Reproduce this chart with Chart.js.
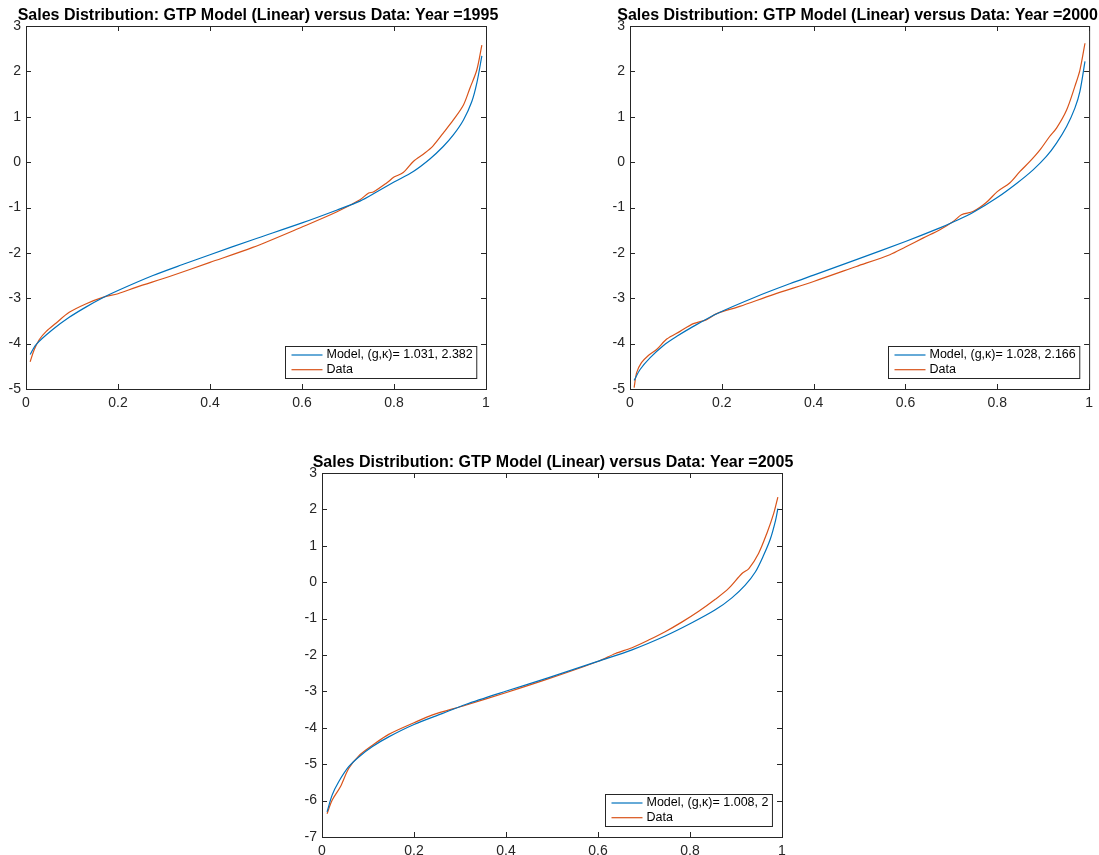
<!DOCTYPE html>
<html>
<head>
<meta charset="utf-8">
<title>Sales Distribution: GTP Model (Linear) versus Data</title>
<script src="https://cdn.jsdelivr.net/npm/chart.js@4"></script>
<style>
  body { margin: 0; background: #fff; overflow: hidden; }
  canvas { position: absolute; }
</style>
</head>
<body>
<canvas id="c1995" width="500" height="420" style="left:0px;top:0px"></canvas>
<canvas id="c2000" width="495" height="420" style="left:604px;top:0px"></canvas>
<canvas id="c2005" width="500" height="408" style="left:296px;top:447px"></canvas>
<script>
// values (quantile on x, log sales on y)
const xTicks = [0, 0.2, 0.4, 0.6, 0.8, 1];

const model1995X = [0.009, 0.022, 0.058, 0.094, 0.131, 0.167, 0.2, 0.276, 0.348, 0.4, 0.493, 0.6, 0.675, 0.726, 0.762, 0.8, 0.842, 0.878, 0.907, 0.929, 0.951, 0.969, 0.98, 0.991];
const model1995Y = [-4.24, -4.02, -3.69, -3.42, -3.19, -2.99, -2.83, -2.50, -2.23, -2.04, -1.71, -1.34, -1.06, -0.86, -0.66, -0.44, -0.205, 0.07, 0.345, 0.6, 0.93, 1.33, 1.74, 2.34];
const data1995X = [0.009, 0.018, 0.029, 0.044, 0.065, 0.094, 0.131, 0.167, 0.2, 0.239, 0.312, 0.4, 0.493, 0.6, 0.675, 0.726, 0.745, 0.755, 0.784, 0.8, 0.82, 0.842, 0.867, 0.885, 0.907, 0.929, 0.951, 0.965, 0.98, 0.991];
const data1995Y = [-4.40, -4.13, -3.91, -3.73, -3.55, -3.31, -3.12, -2.98, -2.90, -2.76, -2.52, -2.21, -1.88, -1.43, -1.10, -0.83, -0.68, -0.66, -0.46, -0.33, -0.23, 0.015, 0.2, 0.36, 0.64, 0.93, 1.26, 1.63, 2.03, 2.58];

const model2000X = [0.009, 0.022, 0.044, 0.073, 0.102, 0.138, 0.189, 0.276, 0.348, 0.4, 0.493, 0.6, 0.675, 0.704, 0.747, 0.8, 0.842, 0.878, 0.907, 0.929, 0.951, 0.969, 0.98, 0.991];
const model2000Y = [-4.81, -4.57, -4.31, -4.04, -3.84, -3.62, -3.34, -2.96, -2.68, -2.49, -2.15, -1.75, -1.45, -1.32, -1.11, -0.78, -0.47, -0.17, 0.125, 0.42, 0.785, 1.19, 1.56, 2.22];
const data2000X = [0.009, 0.0145, 0.025, 0.04, 0.058, 0.08, 0.109, 0.138, 0.167, 0.189, 0.239, 0.312, 0.4, 0.493, 0.566, 0.6, 0.639, 0.675, 0.704, 0.722, 0.747, 0.776, 0.8, 0.827, 0.849, 0.871, 0.893, 0.914, 0.929, 0.951, 0.969, 0.98, 0.991];
const data2000Y = [-4.97, -4.64, -4.42, -4.26, -4.13, -3.90, -3.73, -3.56, -3.47, -3.34, -3.18, -2.92, -2.63, -2.30, -2.04, -1.87, -1.67, -1.49, -1.31, -1.16, -1.09, -0.89, -0.65, -0.46, -0.21, 0.015, 0.27, 0.565, 0.75, 1.15, 1.67, 2.03, 2.62];

const model2005X = [0.011, 0.022, 0.036, 0.058, 0.08, 0.109, 0.145, 0.2, 0.261, 0.312, 0.401, 0.493, 0.601, 0.674, 0.746, 0.802, 0.855, 0.891, 0.92, 0.942, 0.96, 0.975, 0.986, 0.991];
const model2005Y = [-6.31, -5.85, -5.49, -5.07, -4.80, -4.52, -4.25, -3.91, -3.61, -3.36, -2.99, -2.62, -2.17, -1.86, -1.48, -1.13, -0.76, -0.43, -0.08, 0.28, 0.74, 1.2, 1.70, 2.02];
const data2005X = [0.011, 0.022, 0.04, 0.058, 0.08, 0.112, 0.145, 0.2, 0.239, 0.312, 0.401, 0.493, 0.601, 0.638, 0.674, 0.71, 0.746, 0.783, 0.819, 0.855, 0.884, 0.913, 0.928, 0.949, 0.967, 0.982, 0.991];
const data2005Y = [-6.36, -5.99, -5.62, -5.12, -4.77, -4.46, -4.18, -3.86, -3.65, -3.38, -3.03, -2.65, -2.17, -1.96, -1.80, -1.59, -1.36, -1.09, -0.80, -0.47, -0.17, 0.24, 0.375, 0.79, 1.34, 1.89, 2.34];

Chart.defaults.font.family = "'Liberation Sans', Arial, Helvetica, sans-serif";
Chart.defaults.color = '#262626';

function zip(xs, ys) {
  return xs.map((x, i) => ({ x: x, y: ys[i] }));
}

// matlab style box, inward ticks, title and legend
const matlabDeco = {
  id: 'matlabDeco',
  beforeDatasetsDraw(chart) {
    const { ctx, chartArea: a, scales } = chart;
    ctx.save();
    ctx.strokeStyle = '#262626';
    ctx.lineWidth = 1;
    ctx.strokeRect(a.left + 0.5, a.top + 0.5, a.right - a.left, a.bottom - a.top);
    ctx.beginPath();
    scales.x.ticks.forEach(t => {
      const px = Math.round(scales.x.getPixelForValue(t.value)) + 0.5;
      ctx.moveTo(px, a.bottom); ctx.lineTo(px, a.bottom - 5);
      ctx.moveTo(px, a.top); ctx.lineTo(px, a.top + 5);
    });
    scales.y.ticks.forEach(t => {
      const py = Math.round(scales.y.getPixelForValue(t.value)) + 0.5;
      ctx.moveTo(a.left, py); ctx.lineTo(a.left + 5, py);
      ctx.moveTo(a.right, py); ctx.lineTo(a.right - 5, py);
    });
    ctx.stroke();
    ctx.restore();
  },
  afterDraw(chart, args, opts) {
    const { ctx, chartArea: a } = chart;
    ctx.save();
    // title
    ctx.fillStyle = '#000';
    ctx.font = "bold 16px 'Liberation Sans', Arial, sans-serif";
    ctx.textAlign = 'center';
    ctx.textBaseline = 'alphabetic';
    ctx.fillText(opts.title, (a.left + a.right) / 2 + opts.shift, a.top - 6);

    // legend box in the lower right
    ctx.font = "12.5px 'Liberation Sans', Arial, sans-serif";
    const sets = chart.data.datasets;
    const textW = Math.max(...sets.map(d => ctx.measureText(d.label).width));
    const w = 6 + 31 + 4 + textW + 4;
    const h = 32;
    const x0 = Math.round(a.right - 10 - w) + 0.5;
    const y0 = Math.round(a.bottom - 11 - h) + 0.5;
    ctx.fillStyle = '#fff';
    ctx.fillRect(x0, y0, w, h);
    ctx.strokeStyle = '#262626';
    ctx.lineWidth = 1;
    ctx.strokeRect(x0, y0, w, h);
    ctx.textAlign = 'left';
    ctx.textBaseline = 'middle';
    sets.forEach((d, i) => {
      const yy = y0 + 8.5 + i * 14.7;
      ctx.strokeStyle = d.borderColor;
      ctx.lineWidth = 1.2;
      ctx.beginPath();
      ctx.moveTo(x0 + 6, yy); ctx.lineTo(x0 + 37, yy);
      ctx.stroke();
      ctx.fillStyle = '#000';
      ctx.fillText(d.label, x0 + 41, yy);
    });
    ctx.restore();
  }
};

function makePanel(id, p) {
  const canvas = document.getElementById(id);
  return new Chart(canvas.getContext('2d'), {
    type: 'scatter',
    data: {
      datasets: [{
        label: 'Model, (g,κ)= ' + p.params,
        data: zip(p.modelX, p.modelY),
        borderColor: '#0072BD',
      }, {
        label: 'Data',
        data: zip(p.dataX, p.dataY),
        borderColor: '#D95319',
      }]
    },
    plugins: [matlabDeco],
    options: {
      responsive: false,
      animation: false,
      showLine: true,
      elements: {
        point: { radius: 0, hoverRadius: 0 },
        line: { borderWidth: 1.2, tension: 0.3, fill: false }
      },
      layout: { padding: { top: 26, right: p.padRight, left: 0, bottom: 0 } },
      plugins: {
        legend: { display: false },
        title: { display: false },
        tooltip: { enabled: false },
        matlabDeco: { title: 'Sales Distribution: GTP Model (Linear) versus Data: Year =' + p.year, shift: p.titleShift }
      },
      scales: {
        x: {
          type: 'linear',
          min: 0, max: 1,
          afterBuildTicks: s => { s.ticks = xTicks.map(v => ({ value: v })); },
          afterFit: s => { s.height = p.xHeight; },
          grid: { display: false, drawTicks: false },
          border: { display: false },
          ticks: { padding: 6, font: { size: 14 }, maxRotation: 0, callback: v => String(+v.toFixed(1)) }
        },
        y: {
          min: p.yMin, max: 3,
          afterFit: s => { s.width = 26; },
          grid: { display: false, drawTicks: false },
          border: { display: false },
          ticks: { stepSize: 1, padding: 5, font: { size: 14 }, callback: v => String(v) }
        }
      }
    }
  });
}

makePanel('c1995', { year: 1995, params: '1.031, 2.382', modelX: model1995X, modelY: model1995Y, dataX: data1995X, dataY: data1995Y, yMin: -5, padRight: 14, xHeight: 31, titleShift: 2 });
makePanel('c2000', { year: 2000, params: '1.028, 2.166', modelX: model2000X, modelY: model2000Y, dataX: data2000X, dataY: data2000Y, yMin: -5, padRight: 9, xHeight: 31, titleShift: -2 });
makePanel('c2005', { year: 2005, params: '1.008, 2', modelX: model2005X, modelY: model2005Y, dataX: data2005X, dataY: data2005Y, yMin: -7, padRight: 14, xHeight: 18, titleShift: 1 });
</script>
</body>
</html>
